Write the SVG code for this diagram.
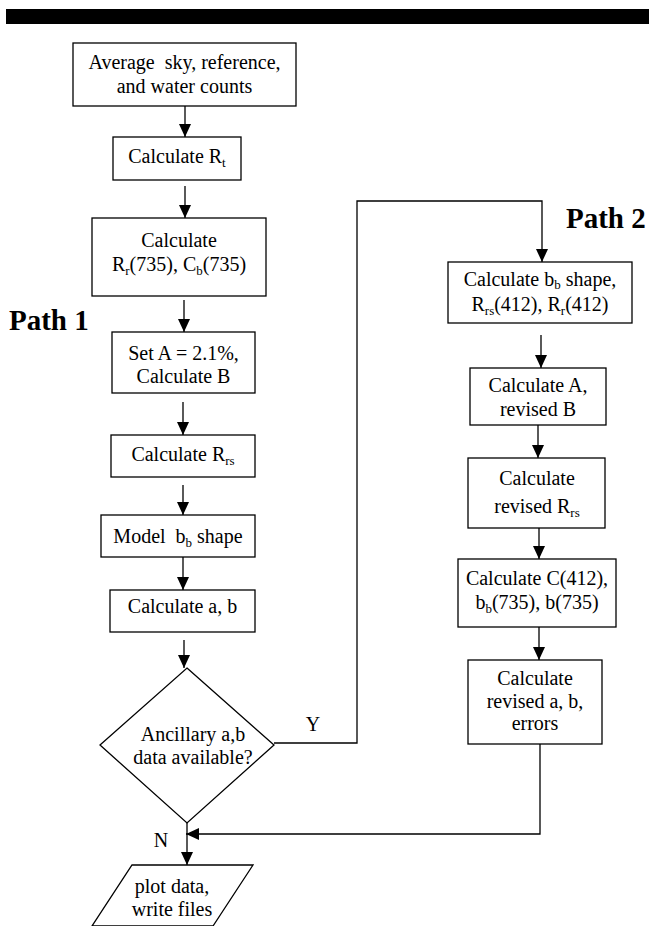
<svg xmlns="http://www.w3.org/2000/svg" width="649" height="926" viewBox="0 0 649 926">
<style>
.box{fill:#fff;stroke:#000;stroke-width:1.3}
.t{font-family:"Liberation Serif","Times New Roman",serif;font-size:20px;fill:#000;text-anchor:middle}
.s{font-size:13px}
.lbl{font-family:"Liberation Serif","Times New Roman",serif;font-size:29px;font-weight:bold;fill:#000}
.c{fill:none;stroke:#000;stroke-width:1.3}
</style>
<defs>
<marker id="ah" markerWidth="14" markerHeight="13" refX="13" refY="6" orient="auto" markerUnits="userSpaceOnUse">
<path d="M0,0 L13,6 L0,12 z" fill="#000"/>
</marker>
</defs>
<rect x="6" y="9" width="643" height="15" fill="#000"/>
<text class="lbl" x="9" y="330">Path 1</text>
<text class="lbl" x="566" y="228">Path 2</text>

<g id="n1"><rect class="box" x="73" y="43" width="223" height="63"/>
<text class="t" x="184.5" y="69" xml:space="preserve">Average  sky, reference,</text>
<text class="t" x="184.5" y="93">and water counts</text></g>
<g id="n2"><rect class="box" x="113" y="137" width="128" height="43"/>
<text class="t" x="177" y="163">Calculate R<tspan class="s" dy="4">t</tspan></text></g>
<g id="n3"><rect class="box" x="92" y="218" width="174" height="78"/>
<text class="t" x="179" y="247">Calculate</text>
<text class="t" x="179" y="271">R<tspan class="s" dy="4">r</tspan><tspan dy="-4">(735), C</tspan><tspan class="s" dy="4">b</tspan><tspan dy="-4">(735)</tspan></text></g>
<g id="n4"><rect class="box" x="112" y="332" width="143" height="61"/>
<text class="t" x="183.5" y="360">Set A = 2.1%,</text>
<text class="t" x="183.5" y="383">Calculate B</text></g>
<g id="n5"><rect class="box" x="111" y="435" width="144" height="42"/>
<text class="t" x="183" y="461">Calculate R<tspan class="s" dy="4">rs</tspan></text></g>
<g id="n6"><rect class="box" x="101" y="515" width="154" height="42"/>
<text class="t" x="178" y="543" xml:space="preserve">Model  b<tspan class="s" dy="4">b</tspan><tspan dy="-4"> shape</tspan></text></g>
<g id="n7"><rect class="box" x="110" y="590" width="145" height="42"/>
<text class="t" x="182.5" y="613">Calculate a, b</text></g>
<g id="n8"><polygon class="box" points="187,668 274,745 187,823 100,745"/>
<text class="t" x="193" y="741">Ancillary a,b</text>
<text class="t" x="193" y="764">data available?</text></g>
<g id="n9"><polygon class="box" points="132,865 253,865 213,926 92,926"/>
<text class="t" x="172" y="893">plot data,</text>
<text class="t" x="172" y="916">write files</text></g>

<g id="r1"><rect class="box" x="448" y="262" width="184" height="61"/>
<text class="t" x="540" y="286">Calculate b<tspan class="s" dy="3">b</tspan><tspan dy="-3"> shape,</tspan></text>
<text class="t" x="540" y="311">R<tspan class="s" dy="4">rs</tspan><tspan dy="-4">(412), R</tspan><tspan class="s" dy="4">r</tspan><tspan dy="-4">(412)</tspan></text></g>
<g id="r2"><rect class="box" x="470" y="368" width="136" height="57"/>
<text class="t" x="538" y="392">Calculate A,</text>
<text class="t" x="538" y="416">revised B</text></g>
<g id="r3"><rect class="box" x="468" y="458" width="137" height="70"/>
<text class="t" x="537" y="485">Calculate</text>
<text class="t" x="537" y="513">revised R<tspan class="s" dy="4">rs</tspan></text></g>
<g id="r4"><rect class="box" x="458" y="559" width="158" height="68"/>
<text class="t" x="537" y="585">Calculate C(412),</text>
<text class="t" x="537" y="609">b<tspan class="s" dy="4">b</tspan><tspan dy="-4">(735), b(735)</tspan></text></g>
<g id="r5"><rect class="box" x="468" y="660" width="134" height="84"/>
<text class="t" x="535" y="685">Calculate</text>
<text class="t" x="535" y="708">revised a, b,</text>
<text class="t" x="535" y="730">errors</text></g>

<g id="connectors">
<line class="c" x1="185" y1="106" x2="185" y2="137" marker-end="url(#ah)"/>
<line class="c" x1="185" y1="186" x2="185" y2="218" marker-end="url(#ah)"/>
<line class="c" x1="184" y1="300" x2="184" y2="332" marker-end="url(#ah)"/>
<line class="c" x1="183" y1="402" x2="183" y2="435" marker-end="url(#ah)"/>
<line class="c" x1="183" y1="485" x2="183" y2="515" marker-end="url(#ah)"/>
<line class="c" x1="183" y1="557" x2="183" y2="590" marker-end="url(#ah)"/>
<line class="c" x1="184" y1="640" x2="184" y2="668" marker-end="url(#ah)"/>
<polyline class="c" points="274,743 357,743 357,201 542,201 542,262" marker-end="url(#ah)"/>
<text class="t" x="313" y="731">Y</text>
<line class="c" x1="541" y1="335" x2="541" y2="368" marker-end="url(#ah)"/>
<line class="c" x1="538" y1="425" x2="538" y2="458" marker-end="url(#ah)"/>
<line class="c" x1="539" y1="528" x2="539" y2="559" marker-end="url(#ah)"/>
<line class="c" x1="539" y1="627" x2="539" y2="660" marker-end="url(#ah)"/>
<polyline class="c" points="540,744 540,834 186,834" marker-end="url(#ah)"/>
<line class="c" x1="187" y1="823" x2="187" y2="865" marker-end="url(#ah)"/>
<text class="t" x="161" y="847">N</text>
</g>
</svg>
